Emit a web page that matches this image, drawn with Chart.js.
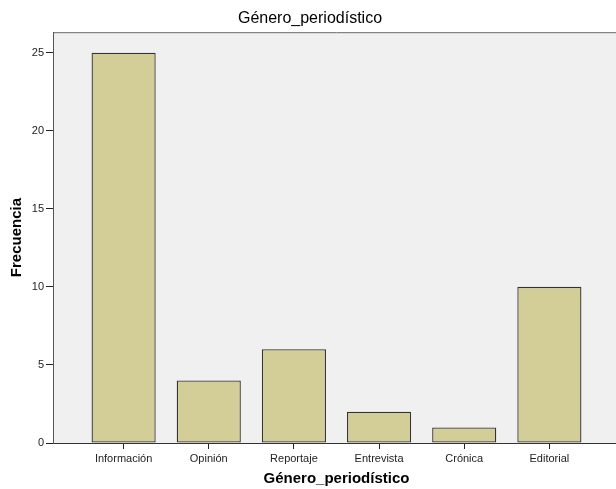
<!DOCTYPE html>
<html>
<head>
<meta charset="utf-8">
<script src="https://cdn.jsdelivr.net/npm/chart.js@4.4.1/dist/chart.umd.min.js"></script>
<style>
  html, body { margin: 0; padding: 0; background: #fff; overflow: hidden; }
  #wrap { width: 620px; height: 489px; }
</style>
</head>
<body>
<div id="wrap"><canvas id="grafico"></canvas></div>
<script>
const categorias = ['Información', 'Opinión', 'Reportaje', 'Entrevista', 'Crónica', 'Editorial']
const frecuencias = [25, 4, 6, 2, 1, 10]
const ticksY = [0, 5, 10, 15, 20, 25]
const tituloX = 'Género_periodístico'
const tituloY = 'Frecuencia'

// fondo gris del area del grafico + linea superior
const fondoPlot = {
  id: 'fondoPlot',
  beforeDraw(chart) {
    const ctx = chart.ctx
    const a = chart.chartArea
    ctx.save()
    ctx.fillStyle = '#f0f0f0'
    ctx.fillRect(a.left, a.top, a.right - a.left, a.bottom - a.top)
    ctx.strokeStyle = '#6a6a6a'
    ctx.lineWidth = 1
    ctx.beginPath()
    ctx.moveTo(a.left, a.top + 0.5)
    ctx.lineTo(a.right, a.top + 0.5)
    ctx.stroke()
    ctx.restore()
  }
}

const puntos = frecuencias.map((v, i) => ({ x: i, y: v }))

const grafico = new Chart(document.getElementById('grafico'), {
  type: 'bar',
  data: {
    datasets: [{
      data: puntos,
      backgroundColor: '#d3ce97',
      borderColor: '#333',
      borderWidth: 1.3,
      borderSkipped: false,
      barPercentage: 1,
      categoryPercentage: 0.753
    }]
  },
  options: {
    responsive: true,
    maintainAspectRatio: false,
    animation: false,
    layout: { padding: 0 },
    plugins: {
      legend: { display: false },
      tooltip: { enabled: false },
      title: {
        display: true,
        text: tituloX,
        color: '#000',
        font: { family: 'Liberation Sans', size: 16, weight: 'normal' },
        padding: { top: 9, bottom: 4 }
      }
    },
    scales: {
      x: {
        type: 'linear',
        offset: false,
        min: -0.8294,
        max: 5.8294,
        afterBuildTicks(scale) {
          scale.ticks = categorias.map((c, i) => ({ value: i }))
        },
        afterFit(scale) { scale.height = 46 },
        ticks: {
          autoSkip: false,
          maxRotation: 0,
          padding: 3,
          color: '#222',
          font: { family: 'Liberation Sans', size: 11 },
          callback: (v) => categorias[v]
        },
        grid: { offset: false, drawOnChartArea: false, drawTicks: true, tickLength: 6, tickColor: '#222' },
        border: { display: true, color: '#333', width: 1 },
        title: {
          display: true,
          text: tituloX,
          color: '#000',
          font: { family: 'Liberation Sans', size: 15, weight: 'bold' },
          padding: { top: 0, bottom: 1 }
        }
      },
      y: {
        min: 0,
        max: 26.31,
        afterBuildTicks(scale) {
          scale.ticks = ticksY.map(v => ({ value: v }))
        },
        afterFit(scale) { scale.width = 53 },
        ticks: {
          padding: 2,
          color: '#222',
          font: { family: 'Liberation Sans', size: 11 }
        },
        grid: { drawOnChartArea: false, drawTicks: true, tickLength: 7, tickColor: '#222' },
        border: { display: true, color: '#555', width: 1 },
        title: {
          display: true,
          text: tituloY,
          color: '#000',
          font: { family: 'Liberation Sans', size: 15, weight: 'bold' },
          padding: { top: 8, bottom: 0 }
        }
      }
    }
  },
  plugins: [fondoPlot]
})
</script>
</body>
</html>
